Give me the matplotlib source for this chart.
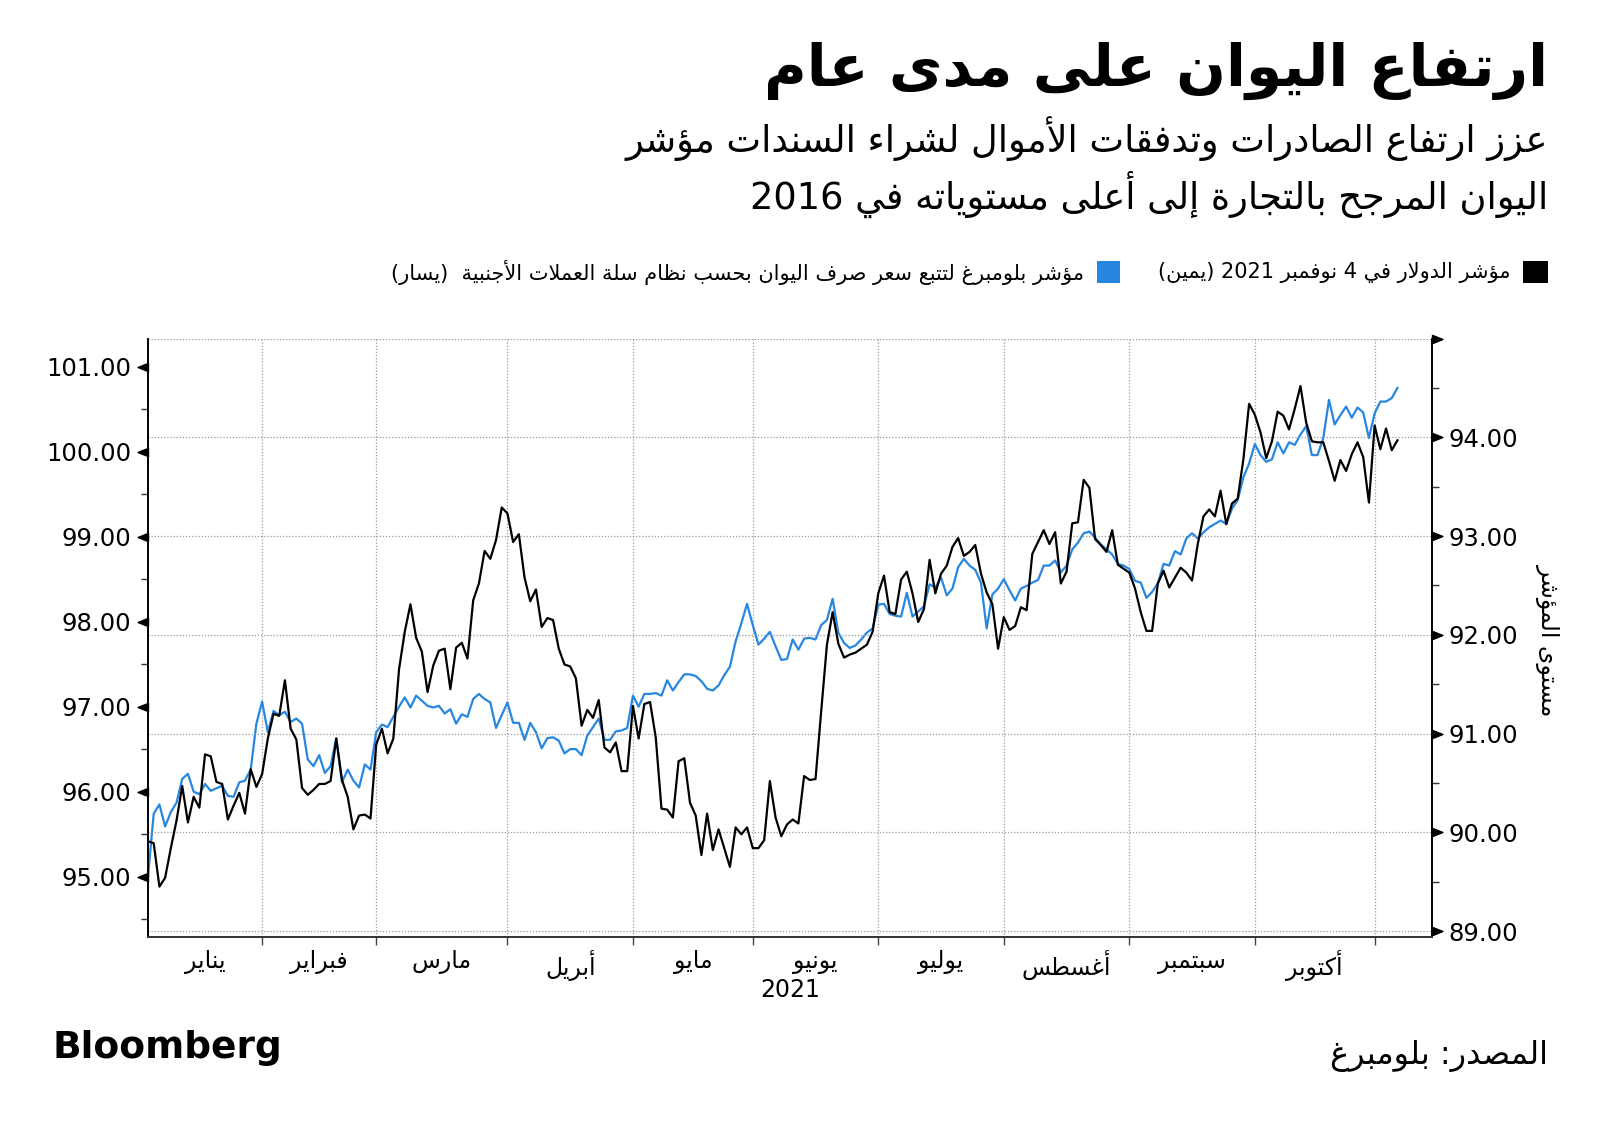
import re
import numpy as np
import pandas as pd
import matplotlib
matplotlib.use("Agg")
import matplotlib.pyplot as plt
from matplotlib.path import Path
from matplotlib.patches import Rectangle

# trading days from the first business day of 2021
start_date = "2021-01-04"

# dollar index, right axis (black)
dollar_index = [
    89.91, 89.89, 89.45, 89.54, 89.84, 90.12, 90.47, 90.10, 90.36, 90.25,
    90.79, 90.77, 90.51, 90.49, 90.13, 90.27, 90.40, 90.19, 90.64, 90.46,
    90.59, 90.95, 91.20, 91.18, 91.54, 91.05, 90.94, 90.45, 90.38, 90.43,
    90.49, 90.49, 90.52, 90.95, 90.53, 90.36, 90.03, 90.17, 90.18, 90.14,
    90.89, 91.05, 90.80, 90.95, 91.65, 92.03, 92.31, 91.97, 91.83, 91.42,
    91.69, 91.84, 91.86, 91.45, 91.87, 91.92, 91.76, 92.35, 92.52, 92.85,
    92.77, 92.96, 93.29, 93.23, 92.94, 93.02, 92.58, 92.34, 92.46, 92.08,
    92.17, 92.15, 91.86, 91.70, 91.68, 91.56, 91.08, 91.24, 91.16, 91.34,
    90.86, 90.81, 90.91, 90.62, 90.62, 91.28, 90.95, 91.30, 91.32, 90.96,
    90.24, 90.23, 90.15, 90.72, 90.75, 90.30, 90.17, 89.77, 90.19, 89.82,
    90.03, 89.84, 89.65, 90.05, 89.98, 90.05, 89.84, 89.84, 89.92, 90.52,
    90.15, 89.96, 90.08, 90.13, 90.09, 90.57, 90.53, 90.54, 91.23, 91.90,
    92.23, 91.91, 91.77, 91.80, 91.82, 91.86, 91.90, 92.03, 92.42, 92.60,
    92.23, 92.21, 92.56, 92.64, 92.42, 92.13, 92.26, 92.76, 92.42, 92.62,
    92.70, 92.89, 92.98, 92.80, 92.84, 92.91, 92.62, 92.43, 92.31, 91.86,
    92.18, 92.05, 92.09, 92.28, 92.25, 92.82, 92.94, 93.06, 92.92, 93.04,
    92.52, 92.64, 93.13, 93.14, 93.57, 93.49, 92.97, 92.91, 92.84, 93.06,
    92.71, 92.67, 92.63, 92.47, 92.23, 92.04, 92.04, 92.52, 92.65, 92.48,
    92.58, 92.68, 92.63, 92.55, 92.92, 93.20, 93.27, 93.20, 93.46, 93.12,
    93.33, 93.38, 93.78, 94.34, 94.23, 94.05, 93.79, 93.96, 94.26, 94.22,
    94.08, 94.29, 94.52, 94.15, 93.96, 93.95, 93.95, 93.76, 93.56, 93.77,
    93.66, 93.83, 93.95, 93.80, 93.34, 94.12, 93.88, 94.09, 93.87, 93.97,
]

# Bloomberg CFETS yuan basket tracker, left axis (blue)
yuan_index = [
    95.00, 95.74, 95.85, 95.59, 95.76, 95.87, 96.15, 96.21, 96.00, 95.97,
    96.09, 96.01, 96.04, 96.07, 95.95, 95.94, 96.11, 96.13, 96.26, 96.80,
    97.06, 96.70, 96.95, 96.90, 96.94, 96.82, 96.86, 96.80, 96.38, 96.30,
    96.43, 96.22, 96.30, 96.63, 96.11, 96.26, 96.13, 96.05, 96.32, 96.26,
    96.70, 96.79, 96.76, 96.88, 97.00, 97.11, 96.99, 97.13, 97.07, 97.01,
    96.99, 97.01, 96.92, 96.97, 96.80, 96.91, 96.88, 97.09, 97.15, 97.09,
    97.05, 96.75, 96.90, 97.05, 96.81, 96.81, 96.61, 96.81, 96.70, 96.51,
    96.63, 96.64, 96.60, 96.45, 96.50, 96.50, 96.43, 96.66, 96.76, 96.86,
    96.61, 96.61, 96.71, 96.72, 96.75, 97.13, 97.00, 97.15, 97.15, 97.16,
    97.13, 97.31, 97.19, 97.29, 97.38, 97.38, 97.36, 97.30, 97.21, 97.19,
    97.25, 97.37, 97.47, 97.77, 97.98, 98.21, 97.96, 97.73, 97.80, 97.88,
    97.71, 97.55, 97.56, 97.79, 97.67, 97.80, 97.81, 97.79, 97.96, 98.02,
    98.27, 97.87, 97.75, 97.69, 97.72, 97.79, 97.87, 97.92, 98.20, 98.21,
    98.09, 98.07, 98.06, 98.34, 98.06, 98.12, 98.18, 98.44, 98.40, 98.52,
    98.31, 98.39, 98.64, 98.74, 98.66, 98.61, 98.46, 97.92, 98.32, 98.39,
    98.50, 98.37, 98.25, 98.39, 98.42, 98.46, 98.49, 98.66, 98.66, 98.72,
    98.58, 98.66, 98.85, 98.93, 99.04, 99.06, 98.99, 98.91, 98.85, 98.79,
    98.68, 98.66, 98.62, 98.48, 98.46, 98.28, 98.35, 98.45, 98.68, 98.66,
    98.83, 98.79, 98.98, 99.04, 98.98, 99.05, 99.11, 99.15, 99.19, 99.15,
    99.33, 99.43, 99.70, 99.86, 100.09, 99.96, 99.88, 99.91, 100.11, 99.98,
    100.11, 100.08, 100.20, 100.30, 99.96, 99.96, 100.16, 100.61, 100.32, 100.43,
    100.53, 100.40, 100.52, 100.46, 100.16, 100.45, 100.59, 100.59, 100.63, 100.75,
]

month_names = ["يناير", "فبراير", "مارس", "أبريل", "مايو", "يونيو",
               "يوليو", "أغسطس", "سبتمبر", "أكتوبر"]
left_ticks = [95, 96, 97, 98, 99, 100, 101]
right_ticks = [89, 90, 91, 92, 93, 94, 95]

title = "ارتفاع اليوان على مدى عام"
subtitle_1 = "عزز ارتفاع الصادرات وتدفقات الأموال لشراء السندات مؤشر"
subtitle_2 = "اليوان المرجح بالتجارة إلى أعلى مستوياته في 2016"
legend_dollar = "مؤشر الدولار في 4 نوفمبر 2021 (يمين)"
legend_yuan = "مؤشر بلومبرغ لتتبع سعر صرف اليوان بحسب نظام سلة العملات الأجنبية  (يسار)"
right_label = "مستوى المؤشر"
source = "المصدر: بلومبرغ"

BLUE = "#2787e0"

# --- minimal arabic shaping (matplotlib has no text shaping) ---
FORMS = {
    'ء': (0xFE80, 1), 'آ': (0xFE81, 2), 'أ': (0xFE83, 2), 'ؤ': (0xFE85, 2),
    'إ': (0xFE87, 2), 'ئ': (0xFE89, 4), 'ا': (0xFE8D, 2), 'ب': (0xFE8F, 4),
    'ة': (0xFE93, 2), 'ت': (0xFE95, 4), 'ث': (0xFE99, 4), 'ج': (0xFE9D, 4),
    'ح': (0xFEA1, 4), 'خ': (0xFEA5, 4), 'د': (0xFEA9, 2), 'ذ': (0xFEAB, 2),
    'ر': (0xFEAD, 2), 'ز': (0xFEAF, 2), 'س': (0xFEB1, 4), 'ش': (0xFEB5, 4),
    'ص': (0xFEB9, 4), 'ض': (0xFEBD, 4), 'ط': (0xFEC1, 4), 'ظ': (0xFEC5, 4),
    'ع': (0xFEC9, 4), 'غ': (0xFECD, 4), 'ف': (0xFED1, 4), 'ق': (0xFED5, 4),
    'ك': (0xFED9, 4), 'ل': (0xFEDD, 4), 'م': (0xFEE1, 4), 'ن': (0xFEE5, 4),
    'ه': (0xFEE9, 4), 'و': (0xFEED, 2), 'ى': (0xFEEF, 2), 'ي': (0xFEF1, 4),
}
LAM_ALEF = {'آ': 0xFEF5, 'أ': 0xFEF7, 'إ': 0xFEF9, 'ا': 0xFEFB}


def shape(s):
    letters = []
    i = 0
    while i < len(s):
        if s[i] == 'ل' and i + 1 < len(s) and s[i + 1] in LAM_ALEF:
            letters.append(('LA', s[i + 1]))
            i += 2
        else:
            letters.append(('C', s[i]))
            i += 1
    out = []
    for k, (kind, c) in enumerate(letters):
        prev = letters[k - 1] if k > 0 else None
        nxt = letters[k + 1] if k + 1 < len(letters) else None
        prev_joins = prev is not None and prev[0] == 'C' and prev[1] in FORMS and FORMS[prev[1]][1] == 4
        if kind == 'LA':
            out.append(chr(LAM_ALEF[c] + (1 if prev_joins else 0)))
            continue
        if c not in FORMS:
            out.append(c)
            continue
        base, nforms = FORMS[c]
        next_ok = nxt is not None and (nxt[0] == 'LA' or (nxt[1] in FORMS and FORMS[nxt[1]][1] > 1))
        can_next = nforms == 4 and next_ok
        if prev_joins and nforms > 1 and can_next:
            code = base + 3
        elif prev_joins and nforms > 1:
            code = base + 1
        elif can_next:
            code = base + 2
        else:
            code = base
        out.append(chr(code))
    return ''.join(out)


def ar(s):
    v = shape(s)[::-1]
    v = re.sub(r'[0-9]+', lambda m: m.group(0)[::-1], v)
    return v.translate(str.maketrans('()', ')('))


plt.rcParams['font.family'] = ['DejaVu Sans']

fig = plt.figure(figsize=(16, 11.25), dpi=100)
ax = fig.add_axes([0.0925, 0.1671, 0.8023, 0.5319])
ax2 = ax.twinx()

dates = pd.bdate_range(start_date, periods=len(dollar_index))
x = np.arange(len(dates))
months = np.asarray(dates.month)
bounds = [0] + list(np.where(months[1:] != months[:-1])[0] + 1)
centers = [(a + b) / 2 for a, b in zip(bounds[:-1], bounds[1:])]

ax.plot(x, yuan_index, color=BLUE, lw=1.6)
ax2.plot(x, dollar_index, color='black', lw=1.6)

ax.set_xlim(0, len(x) + 5)
ax.set_ylim(94.29, 101.33)
ax2.set_ylim(88.94, 95.0)

# x axis: month boundaries ticked, month names centred between them
ax.set_xticks(bounds[1:])
ax.set_xticklabels([])
ax.set_xticks(centers, minor=True)
ax.set_xticklabels([ar(m) for m in month_names], minor=True, fontsize=17)
ax.tick_params(axis='x', which='major', length=6, width=1, color='#444444', direction='out')
ax.tick_params(axis='x', which='minor', length=0, pad=9)
ax.text(0.5, -0.088, "2021", transform=ax.transAxes, ha='center', va='center', fontsize=17)

# left axis
ax.set_yticks(left_ticks)
ax.set_yticklabels([f"{v:.2f}" for v in left_ticks], fontsize=17.5)
ax.set_yticks([v + 0.5 for v in left_ticks[:-1]] + [left_ticks[0] - 0.5], minor=True)
ax.tick_params(axis='y', which='major', length=0, pad=12)
ax.tick_params(axis='y', which='minor', length=5, width=1, color='#333333')

# right axis
ax2.set_yticks(right_ticks)
ax2.set_yticklabels([f"{v:.2f}" for v in right_ticks[:-1]] + [""], fontsize=17.5)
ax2.set_yticks([v + 0.5 for v in right_ticks[:-1]], minor=True)
ax2.tick_params(axis='y', which='major', length=0, pad=12)
ax2.tick_params(axis='y', which='minor', length=5, width=1, color='#333333')

left_tri = Path([(0, 0.4), (-1, 0), (0, -0.4), (0, 0.4)],
                [Path.MOVETO, Path.LINETO, Path.LINETO, Path.CLOSEPOLY])
right_tri = Path([(0, 0.4), (1, 0), (0, -0.4), (0, 0.4)],
                 [Path.MOVETO, Path.LINETO, Path.LINETO, Path.CLOSEPOLY])
ax.plot(np.zeros(len(left_ticks)), left_ticks, ls='none', marker=left_tri, ms=15,
        color='black', transform=ax.get_yaxis_transform(), clip_on=False)
ax2.plot(np.ones(len(right_ticks)), right_ticks, ls='none', marker=right_tri, ms=15,
         color='black', transform=ax2.get_yaxis_transform(), clip_on=False)

# grid
ax.grid(axis='x', which='major', color='#9a9a9a', lw=0.9, ls=(0, (1, 1.5)))
ax2.grid(axis='y', which='major', color='#9a9a9a', lw=0.9, ls=(0, (1, 1.5)))

for a in (ax, ax2):
    a.spines['top'].set_visible(False)
    a.spines['left'].set_linewidth(1.2)
    a.spines['right'].set_linewidth(1.2)
    a.spines['bottom'].set_linewidth(1.2)
    a.spines['bottom'].set_color('#333333')

fig.text(0.9675, 0.431, ar(right_label), rotation=-90, ha='center', va='center', fontsize=17)

# header
fig.text(0.9675, 0.937, ar(title), ha='right', va='center', fontsize=42, fontweight='bold')
fig.text(0.9675, 0.877, ar(subtitle_1), ha='right', va='center', fontsize=26.5)
fig.text(0.9675, 0.8276, ar(subtitle_2), ha='right', va='center', fontsize=26.5)

# legend
fig.add_artist(Rectangle((0.9519, 0.7484), 0.0156, 0.0196, transform=fig.transFigure,
                         facecolor='black', edgecolor='none'))
fig.text(0.944, 0.758, ar(legend_dollar), ha='right', va='center', fontsize=15)
fig.add_artist(Rectangle((0.6856, 0.7484), 0.0144, 0.0196, transform=fig.transFigure,
                         facecolor=BLUE, edgecolor='none'))
fig.text(0.6775, 0.758, ar(legend_yuan), ha='right', va='center', fontsize=15)

# footer
fig.text(0.033, 0.068, "Bloomberg", ha='left', va='center', fontsize=27, fontweight='bold')
fig.text(0.9675, 0.061, ar(source), ha='right', va='center', fontsize=23)

fig.savefig("out.png", dpi=100, facecolor='white')
